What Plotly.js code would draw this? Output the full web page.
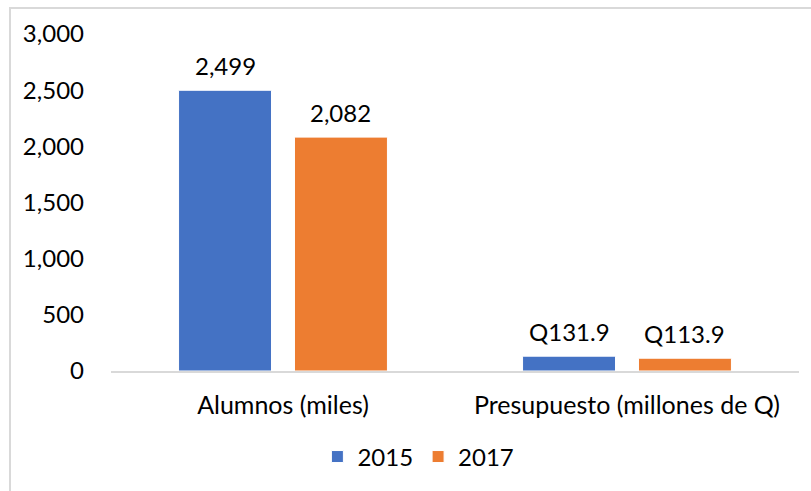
<!DOCTYPE html>
<html><head><meta charset="utf-8">
<script src="https://cdn.plot.ly/plotly-3.0.1.min.js"></script>
<style>html,body{margin:0;padding:0;background:#fff}#frame{position:absolute;left:9px;top:7px;width:900px;height:600px;border-left:2px solid #d9d9d9;border-top:2px solid #d9d9d9;pointer-events:none}</style>
</head><body>
<div id="chart" style="width:811px;height:491px"></div>
<div id="frame"></div>
<script>
const categories = ["Alumnos (miles)", "Presupuesto (millones de Q)"];
const series2015 = [2499, 131.9];
const series2017 = [2082, 113.9];
const labels2015 = ["2,499", "Q131.9"];
const labels2017 = ["2,082", "Q113.9"];
const yTicks = [0, 500, 1000, 1500, 2000, 2500, 3000];
const yTickText = ["0", "500", "1,000", "1,500", "2,000", "2,500", "3,000"];

const font = {family: "Lato, 'Open Sans', sans-serif", size: 24, color: "#000"};
const catFont = {family: "Lato, 'Open Sans', sans-serif", size: 25, color: "#000"};
const traces = [
  {type: "bar", name: "2015", x: categories, y: series2015, hoverinfo: "none",
   offsetgroup: "a", marker: {color: "#4472C4", line: {color: "#ffffff", width: 1}}},
  {type: "bar", name: "2017", x: categories, y: series2017, hoverinfo: "none",
   offsetgroup: "b", marker: {color: "#ED7D31", line: {color: "#ffffff", width: 1}}}
];
// label annotations positioned on data coordinates (category index +/- half slot)
const bargap = 0.326, bargroupgap = 0.198;
const slot = (1 - bargap) / 2;
const annotations = [];
categories.forEach((c, i) => {
  annotations.push({x: i - slot / 2, y: series2015[i], xref: "x", yref: "y", text: labels2015[i],
    showarrow: false, yanchor: "middle", yshift: 25, font: font});
  annotations.push({x: i + slot / 2, y: series2017[i], xref: "x", yref: "y", text: labels2017[i],
    showarrow: false, yanchor: "middle", yshift: 25, font: font});
});
const layout = {
  width: 811, height: 491,
  margin: {l: 111, r: 12, t: 34, b: 120},
  paper_bgcolor: "#fff", plot_bgcolor: "#fff",
  font: font,
  barmode: "group", bargap: bargap, bargroupgap: bargroupgap,
  showlegend: true,
  annotations: annotations,
  legend: {orientation: "h", x: 0.3, xanchor: "left", y: -0.255, yanchor: "middle",
           font: font, itemwidth: 30, tracegroupgap: 0},
  xaxis: {showgrid: false, zeroline: false, showline: true, linecolor: "#d9d9d9", linewidth: 2,
          ticks: "", ticklabelstandoff: 11, tickfont: catFont},
  yaxis: {range: [0, 3000], tickvals: yTicks, ticktext: yTickText, showgrid: false,
          zeroline: false, showline: false, ticks: "", ticklabelstandoff: 26, tickfont: font}
};
Plotly.newPlot("chart", traces, layout, {staticPlot: true});
</script>
</body></html>
